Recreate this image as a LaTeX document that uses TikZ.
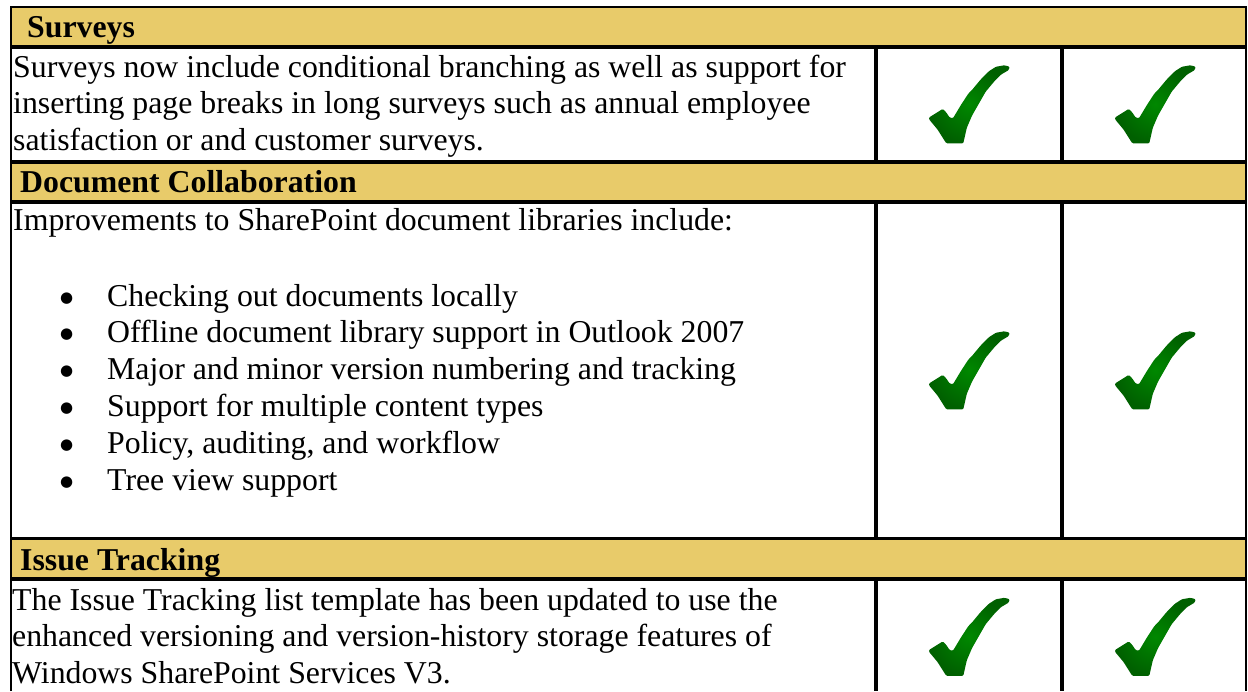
\documentclass[tikz,border=0pt]{standalone}
\usepackage{fontspec}
\setmainfont{Liberation Serif}
\newfontfamily\symfnt{DejaVu Sans}
\definecolor{hdr}{RGB}{232,203,106}
\definecolor{chkin}{RGB}{0,136,0}
\definecolor{chkout}{RGB}{0,96,0}
\newcommand{\blt}{\makebox[47pt][l]{\raisebox{4pt}{\fontsize{15}{15}\symfnt ●}}}
\tikzset{
  txt/.style={anchor=base west, inner sep=0pt, font=\fontsize{31.8}{36.6}\selectfont},
  hd/.style={anchor=base west, inner sep=0pt, font=\fontsize{31.8}{36.6}\selectfont\bfseries},
  frame/.style={line width=2.5pt, black, line join=miter},
  rulebar/.style={line width=4pt, black},
  thinbar/.style={line width=3.5pt, black},
  chk/.pic={
    \shade[inner color=chkin, outer color=chkout, rounded corners=1pt, shift={(-40,-38.5)}, scale=1.03]
      (0,50) -- (13.3,41.7) -- (16.7,45) -- (20,50) -- (23.3,50.7) -- (31.7,36.7)
      -- (38.3,26.7) -- (41.7,23.3) -- (50,13.3) -- (58.3,5) -- (65,0.7) -- (73.3,-0.7)
      -- (78.3,0.7) -- (77.3,4) -- (70,8.3) -- (63.3,15) -- (55,25) -- (48.3,36.7)
      -- (41.7,48.3) -- (36.7,60) -- (33.3,75) -- (16.7,75) -- (8.3,61.7) -- (0,51.7) -- cycle;
  }
}
\begin{document}
\begin{tikzpicture}[x=1pt, y=-1pt]
\useasboundingbox (0,0) rectangle (1248,691);
% header fills
\fill[hdr] (11,7) rectangle (1245.75,47);
\fill[hdr] (11,162) rectangle (1245.75,202);
\fill[hdr] (11,538.5) rectangle (1245.75,579);
% horizontal rules
\draw[rulebar] (11,47) -- (1245.75,47);
\draw[rulebar] (11,162) -- (1245.75,162);
\draw[rulebar] (11,202) -- (1245.75,202);
\draw[thinbar] (11,538.5) -- (1245.75,538.5);
\draw[thinbar] (11,579) -- (1245.75,579);
% column rules
\foreach \cx in {876,1062} {
  \draw[rulebar] (\cx,47) -- (\cx,162);
  \draw[rulebar] (\cx,202) -- (\cx,538.5);
  \draw[rulebar] (\cx,579) -- (\cx,691);
}
% outer frame
\draw[frame] (11,691) -- (11,7) -- (1245.75,7) -- (1245.75,691);

% headers
\node[hd] (h1) at (27,37) {Surveys};
\node[hd] (h2) at (20,192) {Document Collaboration};
\node[hd] (h3) at (20,570) {Issue Tracking};

% row 1
\node[txt] (t1) at (13,77) {\parbox[t]{860pt}{Surveys now include conditional branching as well as support for\\
inserting page breaks in long surveys such as annual employee\\
satisfaction or and customer surveys.}};

% row 2
\node[txt] (t2) at (13,230) {Improvements to SharePoint document libraries include:};
\node[txt, font=\fontsize{31.8}{36.8}\selectfont] (l2) at (60,306) {\parbox[t]{800pt}{%
\blt Checking out documents locally\\
\blt Offline document library support in Outlook 2007\\
\blt Major and minor version numbering and tracking\\
\blt Support for multiple content types\\
\blt Policy, auditing, and workflow\\
\blt Tree view support}};

% row 3
\node[txt, font=\fontsize{31.8}{36.5}\selectfont] (t3) at (12,610) {\parbox[t]{860pt}{The Issue Tracking list template has been updated to use the\\
enhanced versioning and version-history storage features of\\
Windows SharePoint Services V3.}};

% checkmarks
\pic at (969,104.5) {chk};
\pic at (1155,104.5) {chk};
\pic at (969,370.5) {chk};
\pic at (1155,370.5) {chk};
\pic at (969,637) {chk};
\pic at (1155,637) {chk};
\end{tikzpicture}
\end{document}
